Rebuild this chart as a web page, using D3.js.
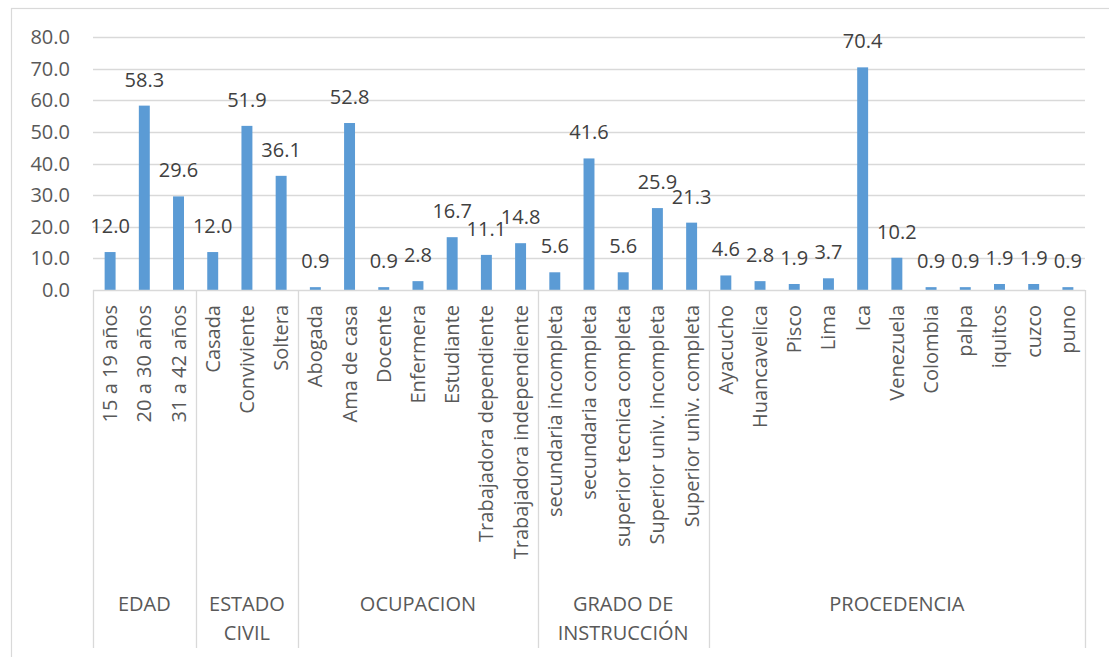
<!DOCTYPE html>
<html>
<head>
<meta charset="utf-8">
<script src="https://cdn.jsdelivr.net/npm/d3@7"></script>
<style>
  html, body { margin: 0; padding: 0; background: #fff; }
  svg { display: block; font-family: "Open Sans", "Noto Sans", sans-serif; }
</style>
</head>
<body>
<svg id="chart" width="1109" height="657"></svg>
<script>
// Groups and their categories
const groups = ["EDAD", "ESTADO CIVIL", "OCUPACION", "GRADO DE INSTRUCCIÓN", "PROCEDENCIA"];
const groupLines = [["EDAD"], ["ESTADO", "CIVIL"], ["OCUPACION"], ["GRADO DE", "INSTRUCCIÓN"], ["PROCEDENCIA"]];
const groupSizes = [3, 3, 7, 5, 11];

const categories = [
  "15 a 19 años", "20 a 30 años", "31 a 42 años",
  "Casada", "Conviviente", "Soltera",
  "Abogada", "Ama de casa", "Docente", "Enfermera", "Estudiante",
  "Trabajadora dependiente", "Trabajadora independiente",
  "secundaria incompleta", "secundaria completa", "superior tecnica completa",
  "Superior univ. incompleta", "Superior univ. completa",
  "Ayacucho", "Huancavelica", "Pisco", "Lima", "Ica", "Venezuela",
  "Colombia", "palpa", "iquitos", "cuzco", "puno"
];

const values = [
  12.0, 58.3, 29.6,
  12.0, 51.9, 36.1,
  0.9, 52.8, 0.9, 2.8, 16.7, 11.1, 14.8,
  5.6, 41.6, 5.6, 25.9, 21.3,
  4.6, 2.8, 1.9, 3.7, 70.4, 10.2, 0.9, 0.9, 1.9, 1.9, 0.9
];

const yTicks = [0, 10, 20, 30, 40, 50, 60, 70, 80];

// Layout
const plot = { left: 93, right: 1085, top: 37, bottom: 290 };
const axisBottom = 648;

const svg = d3.select("#chart");

// Chart frame
svg.append("rect")
  .attr("x", 11.5).attr("y", 8.5)
  .attr("width", 1120).attr("height", 680)
  .attr("fill", "#fff")
  .attr("stroke", "#d9d9d9").attr("stroke-width", 1.2);

const x = d3.scaleBand()
  .domain(d3.range(categories.length))
  .range([plot.left, plot.right])
  .padding(0);

const y = d3.scaleLinear()
  .domain([0, 80])
  .range([plot.bottom, plot.top]);

// Horizontal gridlines
svg.append("g")
  .selectAll("line")
  .data(yTicks.filter(t => t > 0))
  .join("line")
  .attr("x1", plot.left).attr("x2", plot.right)
  .attr("y1", d => Math.round(y(d)) + 0.5).attr("y2", d => Math.round(y(d)) + 0.5)
  .attr("stroke", "#d9d9d9").attr("stroke-width", 1.3);

// Y-axis tick labels
svg.append("g")
  .selectAll("text")
  .data(yTicks)
  .join("text")
  .attr("x", 70)
  .attr("y", d => y(d))
  .attr("dy", "0.35em")
  .attr("text-anchor", "end")
  .attr("font-size", 20)
  .attr("fill", "#595959")
  .text(d => d3.format(".1f")(d));

// Bars
const barW = x.bandwidth() * 0.32;
svg.append("g")
  .selectAll("rect")
  .data(values)
  .join("rect")
  .attr("x", (d, i) => x(i) + (x.bandwidth() - barW) / 2)
  .attr("y", d => y(d))
  .attr("width", barW)
  .attr("height", d => y(0) - y(d))
  .attr("fill", "#5b9bd5");

// Value labels
svg.append("g")
  .selectAll("text")
  .data(values)
  .join("text")
  .attr("x", (d, i) => x(i) + x.bandwidth() / 2)
  .attr("y", d => y(d) - 19)
  .attr("text-anchor", "middle")
  .attr("font-size", 20)
  .attr("fill", "#404040")
  .text(d => d3.format(".1f")(d));

// Category axis baseline
svg.append("line")
  .attr("x1", plot.left).attr("x2", plot.right)
  .attr("y1", plot.bottom + 0.5).attr("y2", plot.bottom + 0.5)
  .attr("stroke", "#d9d9d9").attr("stroke-width", 1.3);

// Group boundaries
const starts = [0];
groupSizes.forEach((n, i) => starts.push(starts[i] + n));
const boundaryX = starts.map(s => s < categories.length ? x(s) : plot.right);

svg.append("g")
  .selectAll("line")
  .data(boundaryX)
  .join("line")
  .attr("x1", d => Math.round(d) + 0.5).attr("x2", d => Math.round(d) + 0.5)
  .attr("y1", plot.bottom).attr("y2", axisBottom)
  .attr("stroke", "#d9d9d9").attr("stroke-width", 1.3);

// Category labels (rotated)
svg.append("g")
  .selectAll("text")
  .data(categories)
  .join("text")
  .attr("transform", (d, i) => `translate(${x(i) + x.bandwidth() / 2},${305}) rotate(-90)`)
  .attr("dy", "0.35em")
  .attr("text-anchor", "end")
  .attr("font-size", 20)
  .attr("fill", "#595959")
  .text(d => d);

// Group labels
const gLabels = svg.append("g");
groupLines.forEach((lines, gi) => {
  const cx = (boundaryX[gi] + boundaryX[gi + 1]) / 2;
  lines.forEach((line, li) => {
    gLabels.append("text")
      .attr("x", cx)
      .attr("y", 611 + li * 29)
      .attr("text-anchor", "middle")
      .attr("font-size", 20)
      .attr("fill", "#595959")
      .text(line);
  });
});
</script>
</body>
</html>
